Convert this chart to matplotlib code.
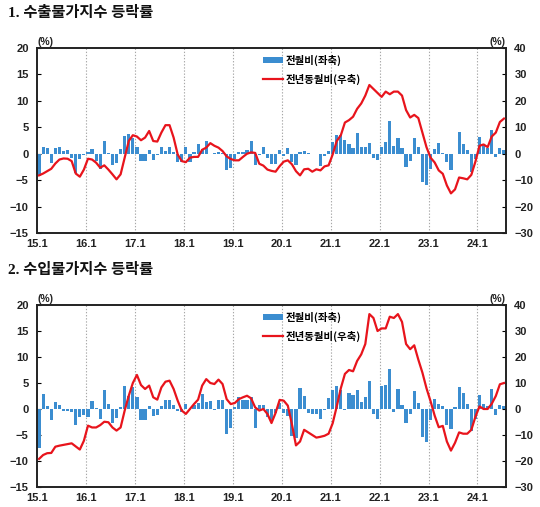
import numpy as np
import matplotlib
matplotlib.use("Agg")
import matplotlib.pyplot as plt
from matplotlib.patches import Patch
from matplotlib.lines import Line2D

# ---------------- data ----------------
year_labels = ["15.1", "16.1", "17.1", "18.1", "19.1", "20.1", "21.1", "22.1", "23.1", "24.1"]

export_mom = [
    -4.3, 1.3, 1.0, -1.8, 1.1, 1.2, 0.6, 0.7, -0.8, -3.7, -1.0, -0.2,
    0.4, 0.8, -1.3, -2.8, 2.4, 0.1, -2.2, -1.8, 0.8, 3.3, 3.8, 3.0,
    1.2, -1.4, -1.4, 0.7, -1.1, -0.3, 1.2, 0.6, 1.2, 0.4, -1.5, -1.5,
    1.2, -1.5, 0.3, 1.8, 0.9, 2.5, -0.1, 0.2, 0.3, 0.2, -3.0, -2.7,
    -1.0, 0.3, 0.3, 0.7, 2.5, -2.2, -0.3, 1.3, -0.8, -2.0, -2.0, 0.7,
    -0.5, 1.0, -1.6, -2.1, 0.4, 0.5, 0.1, -0.1, 0.0, -2.3, -0.5, 0.5,
    2.2, 3.5, 3.5, 2.6, 1.9, 1.0, 3.9, 1.2, 1.2, 2.1, -0.9, -1.1,
    1.2, 2.2, 6.2, 1.5, 3.0, 1.1, -2.5, -1.4, 2.9, 1.2, -5.4, -6.0,
    -2.9, 0.8, 2.1, 0.2, -1.5, -3.1, 0.0, 4.1, 1.8, 0.7, -3.4, -1.0,
    3.1, 1.8, 1.0, 4.5, -0.6, 1.0, 0.7,
]

export_yoy = [
    -8.2, -7.5, -6.6, -5.7, -3.7, -2.2, -1.8, -1.9, -2.8, -7.5, -8.7, -6.0,
    -1.9, -2.2, -3.4, -5.3, -4.4, -6.0, -7.8, -9.7, -7.8, -1.5, 4.8, 7.0,
    6.5, 5.1, 6.1, 8.6, 4.8, 4.6, 8.0, 10.8, 10.8, 6.1, -0.3, -2.8,
    -3.2, -1.5, -1.2, -1.2, 1.5, 2.3, 4.0, 3.0, 2.3, 1.0, -1.0, -2.0,
    -2.5, -2.5, -1.2, 0.0, 0.5, 0.3, -3.8, -4.5, -6.0, -6.5, -6.8, -4.7,
    -3.0, -2.5, -4.0, -6.6, -8.2, -5.9, -5.7, -6.8, -5.9, -6.3, -4.8, -4.4,
    -0.3, 4.8, 7.0, 11.8, 12.7, 14.0, 17.0, 19.0, 22.0, 26.0, 24.5, 23.0,
    21.5, 23.5, 22.5, 23.5, 23.5, 22.0, 16.5, 13.7, 14.7, 13.5, 8.0, 2.5,
    -1.5, -3.3, -6.3, -7.6, -12.0, -15.0, -13.5, -9.0, -9.3, -9.7, -8.0, -3.0,
    3.0, 3.5, 2.5, 6.5, 8.0, 12.0, 13.3,
]

import_mom = [
    -7.5, 2.8, 0.5, -2.2, 1.3, 0.7, -0.3, -0.3, -0.5, -3.1, -1.5, -1.1,
    -1.5, 1.6, 0.1, -1.9, 3.6, 0.9, -2.7, -1.8, 0.3, 4.5, 2.5, 4.3,
    2.3, -2.1, -2.1, 0.6, -1.3, -1.2, 0.5, 1.7, 1.8, 0.7, -0.3, -0.6,
    0.9, 0.0, 0.8, 1.2, 2.9, 1.4, 1.5, -0.2, 1.7, 1.8, -4.9, -3.7,
    0.3, 2.3, 1.8, 1.8, 2.4, -3.7, 0.8, 0.8, -1.6, -2.4, -0.8, 1.2,
    -0.7, -1.3, -5.2, -5.5, 4.0, 2.5, -0.7, -1.0, -1.0, -2.0, -0.2, 2.1,
    3.7, 4.5, 3.6, -0.2, 3.0, 2.7, 3.7, 1.3, 2.4, 5.4, -1.0, -2.0,
    4.5, 4.7, 7.7, -0.5, 3.8, 0.7, -2.6, -0.9, 3.4, 1.2, -5.4, -6.4,
    -2.2, 2.0, 0.9, 0.5, -3.0, -3.8, 0.3, 4.3, 3.0, 0.9, -4.2, -2.0,
    2.7, 1.0, 0.6, 3.9, -1.1, 0.8, 0.5,
]

import_yoy = [
    -19.2, -17.7, -17.0, -16.9, -14.5, -14.1, -13.8, -13.5, -13.2, -14.4, -15.6, -12.2,
    -6.4, -7.1, -7.1, -6.2, -4.9, -5.1, -7.1, -8.3, -7.1, -0.6, 5.1, 10.0,
    13.1, 9.2, 7.7, 9.0, 4.5, 3.6, 8.3, 10.5, 10.9, 7.7, 3.2, -0.6,
    -1.9, 0.0, 1.9, 3.6, 9.0, 11.5, 10.0, 9.6, 11.3, 9.6, 3.8, 1.9,
    2.3, 3.8, 4.5, 5.1, 4.1, 0.6, -0.6, 0.0, -1.9, -5.4, -1.5, 3.5,
    3.2, 1.3, -5.8, -14.0, -12.5, -8.0, -9.0, -10.0, -11.0, -10.7, -10.3, -9.5,
    -5.5, 1.0, 8.0, 13.5, 15.0, 14.5, 18.5, 21.0, 25.0, 36.5, 35.0, 30.0,
    31.0, 31.0, 35.5, 35.0, 36.5, 33.5, 25.0, 23.0, 24.5, 19.0, 14.0, 8.0,
    3.0, -2.5, -7.0, -6.5, -12.5, -16.0, -13.0, -9.0, -9.5, -9.5, -8.0, -3.0,
    1.0, 0.0, 0.0, 2.0, 5.0, 9.5, 10.0,
]

titles = ["1. 수출물가지수 등락률", "2. 수입물가지수 등락률"]
legend_labels = ["전월비(좌축)", "전년동월비(우축)"]

# ---------------- style ----------------
BAR_C = "#3b8dd0"
LINE_C = "#e8141c"
KFONT = ["Noto Sans CJK KR", "DejaVu Sans"]
NFONT = ["Liberation Sans", "DejaVu Sans"]
TFONT = ["Liberation Serif", "Noto Sans CJK KR"]

fig = plt.figure(figsize=(5.40, 5.07), dpi=100)

W, H = 540, 507
panels = [
    (export_mom, export_yoy, (37, 48, 506, 233), 13),
    (import_mom, import_yoy, (37, 305, 506, 487), 270),
]

for k, (mom, yoy, (x0, y0, x1, y1), ty) in enumerate(panels):
    ax = fig.add_axes([x0 / W, 1 - y1 / H, (x1 - x0) / W, (y1 - y0) / H])
    ax2 = ax.twinx()
    n = len(mom)
    x = np.arange(n) + 0.5
    ax.bar(x, mom, width=0.78, color=BAR_C, edgecolor="none", zorder=2)
    ax2.plot(x, yoy, color=LINE_C, lw=1.6, zorder=3, solid_joinstyle="round")

    ax.set_xlim(0, n)
    ax.set_ylim(-15, 20)
    ax2.set_ylim(-30, 40)
    ax.set_yticks(range(-15, 21, 5))
    ax2.set_yticks(range(-30, 41, 10))
    ax.set_yticklabels([str(v) if v >= 0 else "\u2212" + str(-v) for v in range(-15, 21, 5)])
    ax2.set_yticklabels([str(v) if v >= 0 else "\u2212" + str(-v) for v in range(-30, 41, 10)])
    xt = np.arange(0, n, 12)
    ax.set_xticks(xt)
    ax.set_xticklabels(year_labels)
    for v in xt[1:]:
        ax.axvline(v, color="#a8a8a8", lw=0.8, ls=(0, (1.2, 1.6)), zorder=1)

    for a in (ax, ax2):
        for s in a.spines.values():
            s.set_color("#222222")
            s.set_linewidth(1.2)
    ax.tick_params(axis="x", length=0, pad=4)
    ax.tick_params(axis="y", direction="in", length=3, width=0.8, pad=6)
    ax2.tick_params(axis="y", direction="in", length=3, width=0.8, pad=6)
    for lab in ax.get_xticklabels() + ax.get_yticklabels() + ax2.get_yticklabels():
        lab.set_fontfamily(NFONT)
        lab.set_fontweight("bold")
        lab.set_fontsize(8)
        lab.set_color("#222222")

    # (%) unit labels
    fig.text((x0 + 8) / W, 1 - (y0 - 6) / H, "(%)", fontsize=7.5, fontweight="bold",
             family=NFONT, color="#222222", ha="center", va="center")
    fig.text((x1 - 9) / W, 1 - (y0 - 6) / H, "(%)", fontsize=7.5, fontweight="bold",
             family=NFONT, color="#222222", ha="center", va="center")

    # title
    fig.text(8 / W, 1 - ty / H, titles[k], fontsize=11, fontweight="bold",
             family=TFONT, color="#111111", ha="left", va="center")

    handles = [Patch(facecolor=BAR_C, edgecolor="none"),
               Line2D([0], [0], color=LINE_C, lw=1.6)]
    ax2.legend(handles, legend_labels, loc="upper left",
               bbox_to_anchor=(0.472, 0.985), frameon=False,
               handlelength=2.0, handleheight=0.55, handletextpad=0.25,
               labelspacing=0.75, borderaxespad=0.0,
               prop={"family": KFONT, "weight": "bold", "size": 7.5})

fig.savefig("out.png", dpi=100)
